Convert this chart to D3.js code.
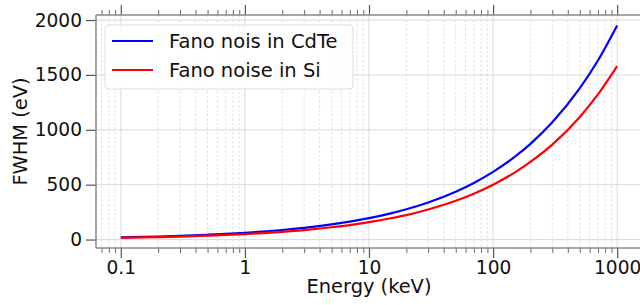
<!DOCTYPE html>
<html>
<head>
<meta charset="utf-8">
<script src="https://cdn.jsdelivr.net/npm/d3@7"></script>
<style>
  body { margin: 0; background: #fff; }
  svg { display: block; font-family: "DejaVu Sans", sans-serif; }
  .grid line { stroke: #d0d0d0; stroke-width: 0.8; }
  .grid .minor { stroke-dasharray: 2.5, 2; stroke: #d8d8d8; }
</style>
</head>
<body>
<div id="chart"></div>
<script>
"use strict";

// energies (keV) and FWHM (eV)
var energy = [0.1, 0.15, 0.2, 0.3, 0.5, 0.7, 1, 1.5, 2, 3, 5, 7, 10, 15, 20, 30, 50, 70,
              100, 150, 200, 300, 500, 700, 1000];
var fwhmCdTe = [19.5, 23.9, 27.6, 33.8, 43.6, 51.6, 61.7, 75.5, 87.2, 107, 138, 163, 195,
                239, 276, 338, 436, 516, 617, 755, 872, 1068, 1379, 1631, 1950];
var fwhmSi = [15.8, 19.4, 22.3, 27.4, 35.3, 41.8, 50, 61.2, 70.7, 86.5, 112, 132, 158,
              194, 223, 274, 353, 418, 500, 612, 707, 865, 1117, 1322, 1580];
var seriesNames = ["Fano nois in CdTe", "Fano noise in Si"];
var seriesColors = ["#0000ff", "#ff0000"];
var xTickValues = [0.1, 1, 10, 100, 1000];
var xTickLabels = ["0.1", "1", "10", "100", "1000"];
var yTickValues = [0, 500, 1000, 1500, 2000];

var width = 640, height = 305;
var margin = {left: 96, top: 15, right: -2, bottom: 57};
var plotW = width - margin.left - margin.right;
var plotH = height - margin.top - margin.bottom;
var tickFont = 18.6, labelFont = 19.4, legendFont = 19.5;

var svg = d3.select("#chart").append("svg")
    .attr("width", width)
    .attr("height", height);

var x = d3.scaleLog().domain([0.0631, 1585]).range([0, plotW]);
var y = d3.scaleLinear().domain([-77, 2046]).range([plotH, 0]);

var g = svg.append("g").attr("transform", "translate(" + margin.left + "," + margin.top + ")");

// minor tick positions
var minorTicks = [];
[0.01, 0.1, 1, 10, 100, 1000].forEach(function(dec) {
    for (var k = 2; k <= 9; k++) {
        var v = dec * k;
        if (v > x.domain()[0] && v < x.domain()[1]) minorTicks.push(v);
    }
});

// grid
var grid = g.append("g").attr("class", "grid");
grid.selectAll("line.minor").data(minorTicks).enter().append("line")
    .attr("class", "minor")
    .attr("x1", function(d) { return x(d); }).attr("x2", function(d) { return x(d); })
    .attr("y1", 0).attr("y2", plotH);
grid.selectAll("line.vmajor").data(xTickValues).enter().append("line")
    .attr("class", "vmajor")
    .attr("x1", function(d) { return x(d); }).attr("x2", function(d) { return x(d); })
    .attr("y1", 0).attr("y2", plotH);
grid.selectAll("line.hmajor").data(yTickValues).enter().append("line")
    .attr("class", "hmajor")
    .attr("x1", 0).attr("x2", plotW)
    .attr("y1", function(d) { return y(d); }).attr("y2", function(d) { return y(d); });

// curves
var line = d3.line()
    .x(function(d) { return x(d[0]); })
    .y(function(d) { return y(d[1]); })
    .curve(d3.curveMonotoneX);

[fwhmCdTe, fwhmSi].forEach(function(vals, i) {
    g.append("path")
        .datum(energy.map(function(e, j) { return [e, vals[j]]; }))
        .attr("fill", "none")
        .attr("stroke", seriesColors[i])
        .attr("stroke-width", 2.2)
        .attr("d", line);
});

// axes
var tickColor = "#555";
function styleAxis(sel) {
    sel.select(".domain").remove();
    sel.attr("font-size", tickFont).attr("font-family", null);
    sel.selectAll("line").attr("stroke", tickColor).attr("stroke-width", 1.2);
    sel.selectAll("text").attr("fill", "#111");
}

var xBottom = g.append("g").attr("transform", "translate(0," + plotH + ")")
    .call(d3.axisBottom(x).tickValues(xTickValues)
        .tickFormat(function(d, i) { return xTickLabels[i]; })
        .tickSize(10).tickPadding(3));
styleAxis(xBottom);

var xBottomMinor = g.append("g").attr("transform", "translate(0," + plotH + ")")
    .call(d3.axisBottom(x).tickValues(minorTicks).tickFormat("").tickSize(5));
styleAxis(xBottomMinor);
xBottomMinor.selectAll("line").attr("stroke-width", 0.9);

var xTop = g.append("g")
    .call(d3.axisTop(x).tickValues(xTickValues).tickFormat("").tickSize(10));
styleAxis(xTop);
var xTopMinor = g.append("g")
    .call(d3.axisTop(x).tickValues(minorTicks).tickFormat("").tickSize(5));
styleAxis(xTopMinor);
xTopMinor.selectAll("line").attr("stroke-width", 0.9);

var yLeft = g.append("g")
    .call(d3.axisLeft(y).tickValues(yTickValues).tickFormat(d3.format("d"))
        .tickSize(10).tickPadding(4));
styleAxis(yLeft);

// spines
var spineColor = "#888";
g.append("line").attr("x1", 0).attr("x2", plotW).attr("y1", 0).attr("y2", 0)
    .attr("stroke", spineColor).attr("stroke-width", 1.5);
g.append("line").attr("x1", 0).attr("x2", plotW).attr("y1", plotH).attr("y2", plotH)
    .attr("stroke", spineColor).attr("stroke-width", 1.5);
g.append("line").attr("x1", 0).attr("x2", 0).attr("y1", 0).attr("y2", plotH)
    .attr("stroke", spineColor).attr("stroke-width", 1.5);

// axis labels
svg.append("text")
    .attr("x", margin.left + x(10))
    .attr("y", 293)
    .attr("text-anchor", "middle")
    .attr("font-size", labelFont)
    .attr("fill", "#111")
    .text("Energy (keV)");
svg.append("text")
    .attr("transform", "translate(27," + (margin.top + plotH / 2) + ") rotate(-90)")
    .attr("text-anchor", "middle")
    .attr("font-size", labelFont)
    .attr("fill", "#111")
    .text("FWHM (eV)");

// legend
var legend = svg.append("g").attr("transform", "translate(105,25)");
legend.append("rect")
    .attr("width", 248).attr("height", 64)
    .attr("rx", 4).attr("ry", 4)
    .attr("fill", "#fff").attr("fill-opacity", 0.85)
    .attr("stroke", "#ddd").attr("stroke-width", 1);
seriesNames.forEach(function(name, i) {
    var yy = 16 + i * 29;
    legend.append("line")
        .attr("x1", 7).attr("x2", 48).attr("y1", yy).attr("y2", yy)
        .attr("stroke", seriesColors[i]).attr("stroke-width", 2.2);
    legend.append("text")
        .attr("x", 64).attr("y", yy).attr("dy", "0.35em")
        .attr("font-size", legendFont).attr("fill", "#111")
        .text(name);
});
</script>
</body>
</html>
